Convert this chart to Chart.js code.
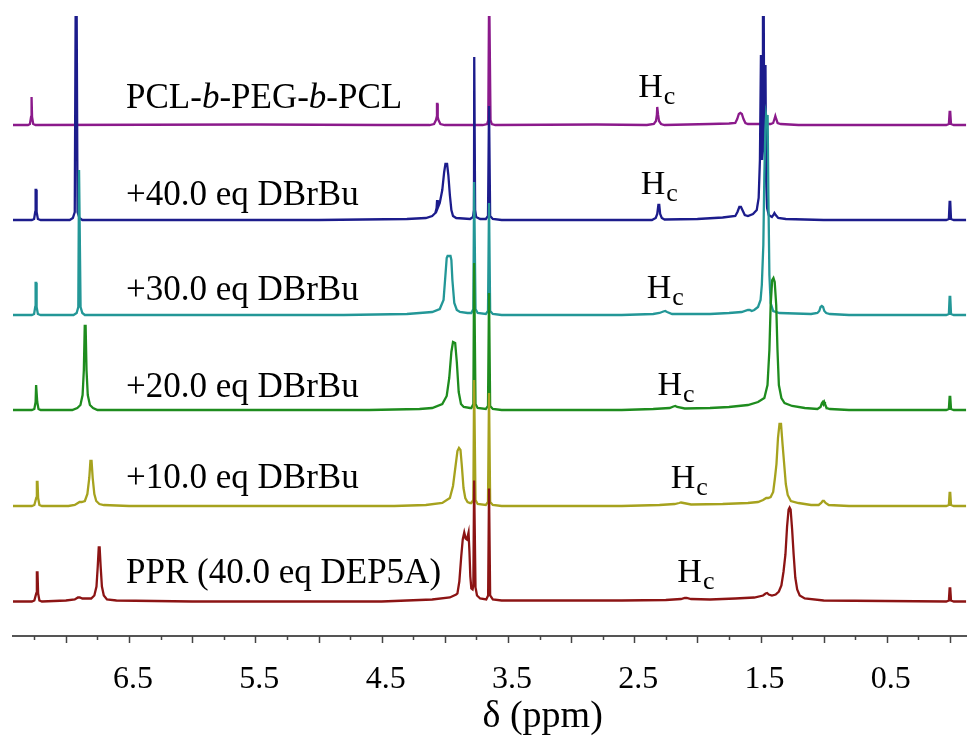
<!DOCTYPE html>
<html>
<head>
<meta charset="utf-8">
<script src="https://cdn.jsdelivr.net/npm/chart.js@4.4.0/dist/chart.umd.min.js"></script>
<style>
  body { margin: 0; background: #fff; }
  #wrap { width: 974px; height: 741px; }
</style>
</head>
<body>
<div id="wrap"><canvas id="nmr" width="974" height="741"></canvas></div>
<script>
// 1H NMR traces, top to bottom. Each point: [ppm, height above that trace's baseline]
const pclPegPcl = [
  [7.42,0],[7.30,0],[7.285,1],[7.276,8],[7.272,28],[7.268,8],[7.259,1],[7.24,0],
  [5.5,0.5],[4.5,0],[4.12,0],[4.085,1],[4.07,5],[4.064,8],[4.062,21],[4.058,21],[4.056,8],[4.05,5],[4.035,1],[4.0,0],
  [3.70,0],[3.665,1],[3.656,5],[3.649,140],[3.645,140],[3.638,5],[3.628,1],[3.60,0],
  [2.8,0.5],[2.40,0],[2.345,1],[2.328,4],[2.321,10],[2.318,18],[2.314,18],[2.311,10],[2.304,4],[2.288,1],[2.26,0],
  [1.9,1],[1.75,1.5],[1.70,2],[1.685,6],[1.672,11],[1.66,12],[1.648,11],[1.635,6],[1.62,2],[1.60,1],
  [1.55,1],[1.42,1],[1.40,2],[1.39,6],[1.383,9],[1.376,6],[1.365,2],[1.34,1],[1.2,0],
  [0.03,0],[0.009,1],[0.003,13],[-0.002,13],[-0.008,1],[-0.03,0],[-0.13,0]
];
const dbrbu40 = [
  [7.42,0],[7.27,0],[7.252,1],[7.243,8],[7.240,30],[7.235,30],[7.232,8],[7.222,1],[7.20,0],
  [6.97,0],[6.945,2],[6.93,8],[6.922,240],[6.916,240],[6.908,8],[6.893,2],[6.87,0],
  [5.0,0],[4.3,1],[4.15,2],[4.10,4],[4.075,7],[4.065,12],[4.061,20],[4.056,12],[4.04,17],[4.02,30],[4.005,48],[3.995,56],[3.982,56],[3.972,45],[3.96,25],[3.948,10],[3.935,4],[3.91,2],
  [3.80,1],[3.777,3],[3.769,10],[3.767,163],[3.763,163],[3.760,10],[3.752,3],[3.72,1],
  [3.675,1],[3.658,4],[3.650,114],[3.646,114],[3.641,4],[3.62,1],[3.55,0],
  [2.6,0],[2.36,0],[2.33,2],[2.318,6],[2.309,15],[2.302,15],[2.295,6],[2.282,2],[2.26,0.5],
  [2.0,1],[1.80,2.5],[1.70,4],[1.683,8],[1.668,13],[1.655,13],[1.64,9],[1.625,5],[1.60,4],
  [1.56,6],[1.53,10],[1.515,22],[1.505,60],[1.497,165],[1.490,60],[1.485,90],[1.481,260],[1.476,260],[1.471,70],[1.466,60],[1.461,155],[1.456,40],[1.448,12],[1.435,5],
  [1.41,3],[1.398,5],[1.390,7],[1.380,5],[1.36,2],[1.30,1],[1.0,0],
  [0.03,0],[0.009,1],[0.003,18],[-0.002,18],[-0.008,1],[-0.03,0],[-0.13,0]
];
const dbrbu30 = [
  [7.42,0],[7.27,0],[7.252,1],[7.243,8],[7.240,32],[7.235,32],[7.232,8],[7.222,1],[7.20,0],
  [6.94,0],[6.915,2],[6.902,8],[6.896,145],[6.890,145],[6.884,8],[6.87,2],[6.85,0],
  [4.8,0],[4.3,1],[4.10,3],[4.04,6],[4.01,15],[3.995,40],[3.985,57],[3.978,59],[3.955,59],[3.948,55],[3.94,35],[3.925,12],[3.905,5],[3.88,3],[3.82,2],
  [3.79,2],[3.774,6],[3.768,133],[3.763,133],[3.757,6],[3.74,2],
  [3.675,1],[3.658,4],[3.650,112],[3.646,112],[3.641,4],[3.62,1],[3.55,0],
  [2.6,0],[2.35,1],[2.30,2],[2.27,3.5],[2.255,4],[2.24,3],[2.20,1],[1.9,1],[1.75,2],[1.65,3],[1.60,5],[1.585,5],[1.57,4],[1.55,5],
  [1.52,8],[1.50,15],[1.49,30],[1.478,70],[1.47,140],[1.462,185],[1.456,200],[1.45,195],[1.444,200],[1.438,120],[1.43,40],[1.42,12],[1.40,4],[1.35,2],
  [1.10,1],[1.05,2],[1.035,4],[1.025,8],[1.015,9],[1.005,8],[0.995,4],[0.98,2],[0.95,1],[0.8,0],
  [0.03,0],[0.009,1],[0.003,18],[-0.002,18],[-0.008,1],[-0.03,0],[-0.13,0]
];
const dbrbu20 = [
  [7.42,0],[7.27,0],[7.25,1],[7.24,8],[7.236,25],[7.231,25],[7.227,8],[7.217,1],[7.20,0],
  [6.95,0],[6.91,2],[6.885,5],[6.868,15],[6.858,40],[6.851,84],[6.844,84],[6.837,40],[6.827,15],[6.81,5],[6.785,2],[6.75,0],
  [4.6,0],[4.2,1],[4.10,2],[4.02,6],[3.985,14],[3.965,32],[3.948,58],[3.935,68],[3.918,67],[3.905,48],[3.89,18],[3.872,6],[3.85,3],[3.80,2],
  [3.79,2],[3.774,6],[3.768,147],[3.763,147],[3.757,6],[3.74,2],
  [3.675,1],[3.658,4],[3.650,117],[3.646,117],[3.641,4],[3.62,1],[3.55,0],
  [2.6,0],[2.35,1],[2.22,2],[2.19,3.5],[2.175,4],[2.16,3],[2.10,1.5],[1.9,2],[1.75,3],[1.6,5],[1.52,8],
  [1.47,12],[1.445,25],[1.43,60],[1.42,105],[1.408,130],[1.398,132],[1.388,128],[1.376,105],[1.366,60],[1.355,25],[1.335,12],[1.31,7],[1.25,4],[1.15,2],
  [1.05,1],[1.025,3],[1.014,7],[1.008,8],[1.002,6],[0.996,8],[0.99,6],[0.977,2],[0.95,1],[0.8,0],
  [0.03,0],[0.009,1],[0.003,13],[-0.002,13],[-0.008,1],[-0.03,0],[-0.13,0]
];
const dbrbu10 = [
  [7.42,0],[7.27,0],[7.25,1],[7.235,8],[7.230,24],[7.225,24],[7.220,8],[7.21,1],[7.19,0],
  [6.98,0],[6.93,1],[6.905,3],[6.892,4],[6.875,4],[6.85,5],[6.83,12],[6.815,28],[6.806,45],[6.797,45],[6.788,28],[6.775,12],[6.76,5],[6.735,2],[6.70,1],[6.5,0],
  [4.4,0],[4.15,1],[4.02,3],[3.96,8],[3.935,20],[3.915,40],[3.900,55],[3.888,58],[3.876,56],[3.865,40],[3.852,18],[3.838,8],[3.82,4],[3.80,3],
  [3.79,3],[3.774,6],[3.768,126],[3.763,126],[3.757,6],[3.74,2],
  [3.675,1],[3.658,4],[3.650,113],[3.646,113],[3.641,4],[3.62,1],[3.55,0],
  [2.6,0],[2.3,1],[2.18,2],[2.145,3],[2.13,3.5],[2.11,3],[2.05,1.5],[1.8,2],[1.6,3],[1.52,4],[1.48,6],[1.455,8],[1.44,8],[1.42,9],
  [1.40,14],[1.386,28],[1.374,42],[1.362,68],[1.350,82],[1.338,82],[1.326,62],[1.313,42],[1.30,22],[1.285,11],[1.26,5],[1.20,3],[1.10,1],
  [1.04,1],[1.02,3],[1.008,5],[0.998,5],[0.985,3],[0.96,1],[0.8,0],
  [0.03,0],[0.009,1],[0.003,13],[-0.002,13],[-0.008,1],[-0.03,0],[-0.13,0]
];
const ppr = [
  [7.42,0],[7.27,0],[7.25,1],[7.235,8],[7.230,29],[7.225,29],[7.220,8],[7.21,1],[7.19,0],
  [7.0,1],[6.93,2],[6.905,4],[6.89,4],[6.87,3],[6.80,3],[6.775,6],[6.758,15],[6.748,35],[6.740,54],[6.733,54],[6.725,35],[6.715,15],[6.70,6],[6.675,2],[6.6,1],[6.0,0],
  [4.5,0],[4.1,2],[3.96,4],[3.91,7],[3.90,8],[3.885,20],[3.87,45],[3.858,62],[3.846,69],[3.835,63],[3.825,62],[3.812,69],[3.805,50],[3.798,25],[3.79,13],[3.78,12],
  [3.774,16],[3.768,121],[3.763,121],[3.757,14],[3.745,6],[3.72,3],
  [3.672,2],[3.657,6],[3.650,113],[3.646,113],[3.641,6],[3.62,2],[3.55,1],
  [2.6,1],[2.25,1.5],[2.13,2.5],[2.10,3.5],[2.085,3.5],[2.05,2.5],[1.9,2],[1.7,3],[1.55,4],
  [1.48,6],[1.46,8],[1.448,8.5],[1.435,7],[1.41,6],[1.38,7],[1.355,10],[1.335,16],[1.318,30],[1.303,47],[1.29,75],[1.278,92],[1.270,94],[1.262,92],[1.25,72],[1.238,47],[1.225,24],[1.21,12],[1.19,6],[1.15,3],[1.0,1],
  [0.03,0],[0.009,1],[0.003,13],[-0.002,13],[-0.008,1],[-0.03,0],[-0.13,0]
];

const spectra = [pclPegPcl, dbrbu40, dbrbu30, dbrbu20, dbrbu10, ppr];
const baselines = [511, 416, 321, 226, 130, 34.5];
const colors = ['#8b1a8b', '#1c1c8c', '#239797', '#1e8c1e', '#a6a21e', '#8c1414'];

// sample names (*...* = italic) and the H_c marks
const sampleNames = ['PCL-*b*-PEG-*b*-PCL', '+40.0 eq DBrBu', '+30.0 eq DBrBu', '+20.0 eq DBrBu', '+10.0 eq DBrBu', 'PPR (40.0 eq DEP5A)'];
const nameX = 6.524;
const nameY = [528, 431, 336, 239, 148, 53];
const hcX = [2.468, 2.449, 2.402, 2.316, 2.211, 2.159];
const hcY = [539, 442, 338, 241, 148, 54];
const axisTitle = 'δ (ppm)';
const axisTitleX = 3.225;

const serif = '"Liberation Serif", "Times New Roman", serif';

const annotate = {
  id: 'annotate',
  afterDraw(chart) {
    const { ctx, chartArea } = chart;
    const x = chart.scales.x, y = chart.scales.y;
    ctx.save();
    ctx.fillStyle = '#000';
    ctx.textBaseline = 'alphabetic';
    ctx.textAlign = 'left';
    sampleNames.forEach((name, i) => {
      let px = x.getPixelForValue(nameX);
      const py = y.getPixelForValue(nameY[i]);
      name.split('*').forEach((part, k) => {
        ctx.font = (k % 2 ? 'italic ' : '') + '35px ' + serif;
        ctx.fillText(part, px, py);
        px += ctx.measureText(part).width;
      });
    });
    hcX.forEach((v, i) => {
      const px = x.getPixelForValue(v);
      const py = y.getPixelForValue(hcY[i]);
      ctx.font = '34px ' + serif;
      ctx.fillText('H', px, py);
      const w = ctx.measureText('H').width;
      ctx.font = '26px ' + serif;
      ctx.fillText('c', px + w + 1, py + 7);
    });
    // axis title, sitting a little right of centre as in the figure
    ctx.textAlign = 'center';
    ctx.font = '38px ' + serif;
    ctx.fillText(axisTitle, x.getPixelForValue(axisTitleX), chartArea.bottom + 91);
    // tick marks: long at every 0.5 ppm, short in between
    ctx.strokeStyle = '#444';
    ctx.lineWidth = 1.5;
    x.ticks.forEach(t => {
      const px = Math.round(x.getPixelForValue(t.value)) + 0.5;
      const major = Math.abs(t.value * 2 - Math.round(t.value * 2)) < 1e-6;
      ctx.beginPath();
      ctx.moveTo(px, chartArea.bottom);
      ctx.lineTo(px, chartArea.bottom + (major ? 7 : 4));
      ctx.stroke();
    });
    ctx.restore();
  }
};

new Chart(document.getElementById('nmr'), {
  type: 'line',
  data: {
    datasets: spectra.map((s, i) => ({
      label: sampleNames[i],
      data: s.map(p => ({ x: p[0], y: baselines[i] + p[1] })),
      borderColor: colors[i],
      borderWidth: 2.3,
      pointRadius: 0,
      tension: 0,
      fill: false,
      order: spectra.length - 1 - i
    }))
  },
  options: {
    responsive: false,
    animation: false,
    events: [],
    layout: { padding: { top: 16, left: 13, right: 0, bottom: 0 } },
    plugins: { legend: { display: false }, tooltip: { enabled: false } },
    scales: {
      x: {
        type: 'linear',
        reverse: true,
        min: -0.128,
        max: 7.419,
        afterFit: (scale) => { scale.height = 105; },
        border: { display: true, color: '#555', width: 2 },
        grid: { display: false, drawTicks: false },
        ticks: {
          stepSize: 0.25,
          includeBounds: false,
          autoSkip: false,
          maxRotation: 0,
          padding: 24,
          labelOffset: 4,
          color: '#000',
          font: { family: serif, size: 32 },
          callback: (v) => (Math.abs((v % 1) - 0.5) < 1e-6 ? v.toFixed(1) : '')
        },
        title: { display: false }
      },
      y: { display: false, min: 0, max: 620 }
    }
  },
  plugins: [annotate]
});
</script>
</body>
</html>
